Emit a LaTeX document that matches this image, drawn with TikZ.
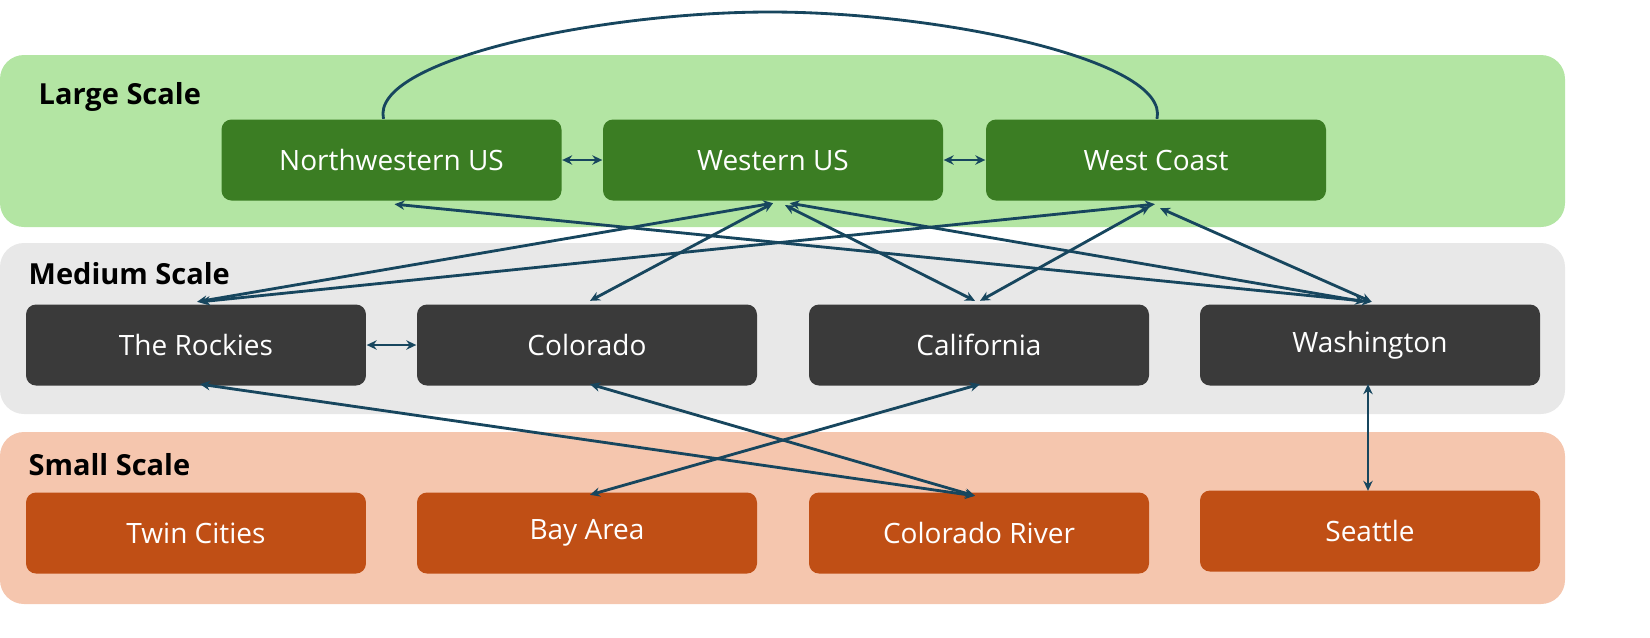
\documentclass[tikz,border=0pt]{standalone}
\usepackage{fontspec}
\setmainfont{Open Sans}
\usetikzlibrary{arrows.meta}
\definecolor{bandG}{HTML}{B3E5A3}
\definecolor{bandM}{HTML}{E8E8E8}
\definecolor{bandS}{HTML}{F5C6AE}
\definecolor{boxG}{HTML}{3B7D23}
\definecolor{boxM}{HTML}{3A3A3A}
\definecolor{boxS}{HTML}{C04F15}
\definecolor{arr}{HTML}{17465E}
\begin{document}
\begin{tikzpicture}[x=0.3pt,y=-0.3pt,
  band/.style={rounded corners=7.2pt},
  box/.style={rounded corners=3pt,minimum width=102pt,minimum height=24.3pt,text=white,font=\fontsize{8.4}{10}\selectfont,inner sep=0pt},
  hdr/.style={anchor=west,inner sep=0pt,font=\bfseries\fontsize{8.7}{10}\selectfont},
  conn/.style={arr,line width=0.85pt,{Stealth[length=3pt,width=2.8pt]}-{Stealth[length=3pt,width=2.8pt]}}]
\useasboundingbox (0,0) rectangle (1650,637);
\fill[bandG,band] (0,55) rectangle (1565,227);
\fill[bandM,band] (0,243) rectangle (1565,414);
\fill[bandS,band] (0,432) rectangle (1565,604);
\node[hdr] (hl) at (38,97) {Large Scale};
\node[hdr] (hm) at (28,274) {Medium Scale};
\node[hdr] (hs) at (28,465) {Small Scale};
\node[box,fill=boxG] (nw) at (391.5,160) {Northwestern US};
\node[box,fill=boxG] (wus) at (773,160) {Western US};
\node[box,fill=boxG] (wc) at (1156,160) {West Coast};
\node[box,fill=boxM] (rk) at (196,345) {The Rockies};
\node[box,fill=boxM] (co) at (587,345) {Colorado};
\node[box,fill=boxM] (ca) at (979,345) {California};
\node[box,fill=boxM] (wa) at (1370,345) {Washington};
\node[box,fill=boxS] (tc) at (196,533) {Twin Cities};
\node[box,fill=boxS] (ba) at (587,533) {Bay Area};
\node[box,fill=boxS] (cr) at (979,533) {Colorado River};
\node[box,fill=boxS] (se) at (1370,531) {Seattle};
\draw[conn] (nw.east) -- (wus.west);
\draw[conn] (wus.east) -- (wc.west);
\draw[arr,line width=0.85pt] ([xshift=-2.4pt]nw.north) .. controls (370,60) and (600,12) .. (770,12) .. controls (940,12) and (1170,60) .. ([xshift=0.3pt]wc.north);
\draw[conn] ([xshift=0.9pt,yshift=-0.9pt]nw.south) -- ([xshift=0.5pt,yshift=0.6pt]wa.north);
\draw[conn] ([yshift=-0.6pt]wus.south) -- ([xshift=0.3pt,yshift=0.6pt]rk.north);
\draw[conn] ([yshift=-0.6pt]wus.south) -- ([xshift=0.9pt,yshift=0.9pt]co.north);
\draw[conn] ([xshift=3.6pt,yshift=-1.2pt]wus.south) -- ([xshift=-1.2pt,yshift=0.9pt]ca.north);
\draw[conn] ([xshift=5pt,yshift=-0.6pt]wus.south) -- ([xshift=-1.5pt,yshift=0.6pt]wa.north);
\draw[conn] ([xshift=-0.3pt,yshift=-0.9pt]wc.south) -- ([xshift=1.2pt,yshift=0.6pt]rk.north);
\draw[conn] ([xshift=-1.8pt,yshift=-1.5pt]wc.south) -- ([xshift=0.3pt,yshift=0.9pt]ca.north);
\draw[conn] ([xshift=1.2pt,yshift=-2.1pt]wc.south) -- ([xshift=0.5pt,yshift=0.6pt]wa.north);
\draw[conn] (rk.east) -- (co.west);
\draw[conn] ([xshift=1.2pt,yshift=0.6pt]rk.south) -- ([xshift=-1.2pt,yshift=-1.2pt]cr.north);
\draw[conn] ([xshift=0.9pt,yshift=0.6pt]co.south) -- ([xshift=-1.2pt,yshift=-1.2pt]cr.north);
\draw[conn] ([xshift=0.3pt,yshift=0.6pt]ca.south) -- ([xshift=0.9pt,yshift=-0.9pt]ba.north);
\draw[conn] ([xshift=-0.6pt,yshift=0.6pt]wa.south) -- ([xshift=-0.6pt,yshift=-0.3pt]se.north);
\end{tikzpicture}
\end{document}
